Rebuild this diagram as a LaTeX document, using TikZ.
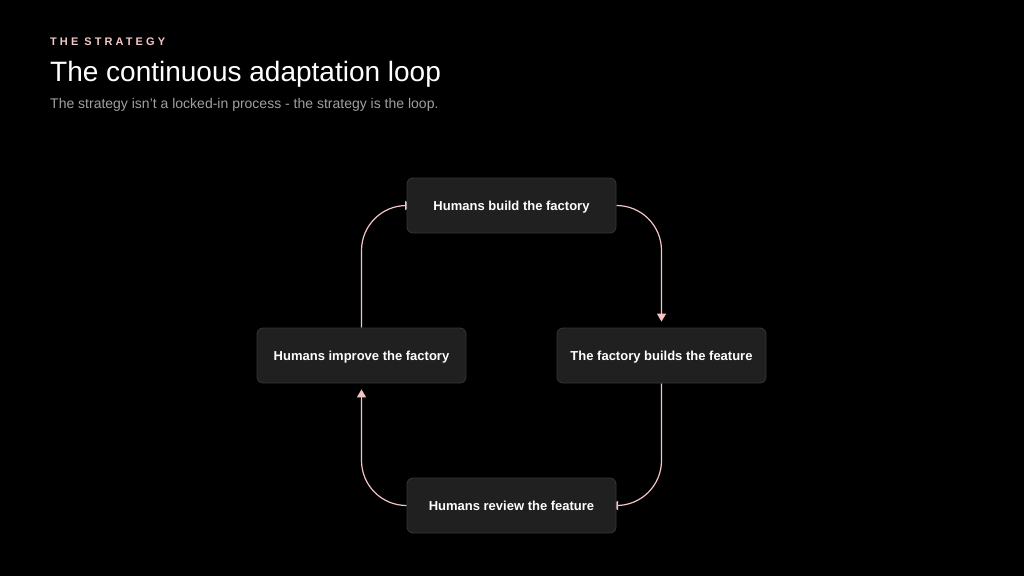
\documentclass[tikz,border=0pt]{standalone}
\usepackage{fontspec}
\setmainfont{Liberation Sans}
\usetikzlibrary{arrows.meta,backgrounds}
\definecolor{bgc}{HTML}{000000}
\definecolor{boxfill}{HTML}{202020}
\definecolor{boxline}{HTML}{363636}
\definecolor{edgec}{HTML}{F2C4C4}
\definecolor{kick}{HTML}{F4C8C8}
\definecolor{subc}{HTML}{A0A0A0}
\begin{document}
\begin{tikzpicture}[x=1pt,y=-1pt,
  stepbox/.style={draw=boxline,fill=boxfill,rounded corners=6pt,line width=0.8pt,
    minimum width=209pt,minimum height=55pt,inner sep=0pt,text height=9.5pt,text depth=0pt,
    font=\bfseries\fontsize{13}{15}\selectfont,text=white},
  flow/.style={draw=edgec,line width=1.2pt,rounded corners=45pt,
    -{Triangle[width=9pt,length=8pt]}}]
\begin{pgfonlayer}{background}
\fill[bgc] (0,0) rectangle (1024,576);
\end{pgfonlayer}
\useasboundingbox (0,0) rectangle (1024,576);
\node[anchor=base west,inner sep=0pt,text=kick,font=\bfseries\fontsize{11}{13}\selectfont\addfontfeature{LetterSpace=28}] (kicker) at (50,45) {THE STRATEGY};
\node[anchor=base west,inner sep=0pt,text=white,font=\fontsize{28}{32}\selectfont] (title) at (50,81) {The continuous adaptation loop};
\node[anchor=base west,inner sep=0pt,text=subc,font=\fontsize{14}{16}\selectfont] (sub) at (50,108.5) {The strategy isn't a locked-in process - the strategy is the loop.};
\node[stepbox] (top) at (511.5,205.5) {Humans build the factory};
\node[stepbox] (right) at (661.5,355.5) {The factory builds the feature};
\node[stepbox] (bot) at (511.5,505.5) {Humans review the feature};
\node[stepbox] (left) at (361.5,355.5) {Humans improve the factory};
\coordinate (tin) at (413,205.5);
\coordinate (bin) at (610,505.5);
\coordinate (rin) at ([yshift=6pt]right.north);
\coordinate (lin) at ([yshift=-6pt]left.south);
\begin{scope}[on background layer]
\draw[flow] (top.east) -| (rin);
\draw[flow] (right.south) |- (bin);
\draw[flow] (bot.west) -| (lin);
\draw[flow] (left.north) |- (tin);
\end{scope}
\end{tikzpicture}
\end{document}
